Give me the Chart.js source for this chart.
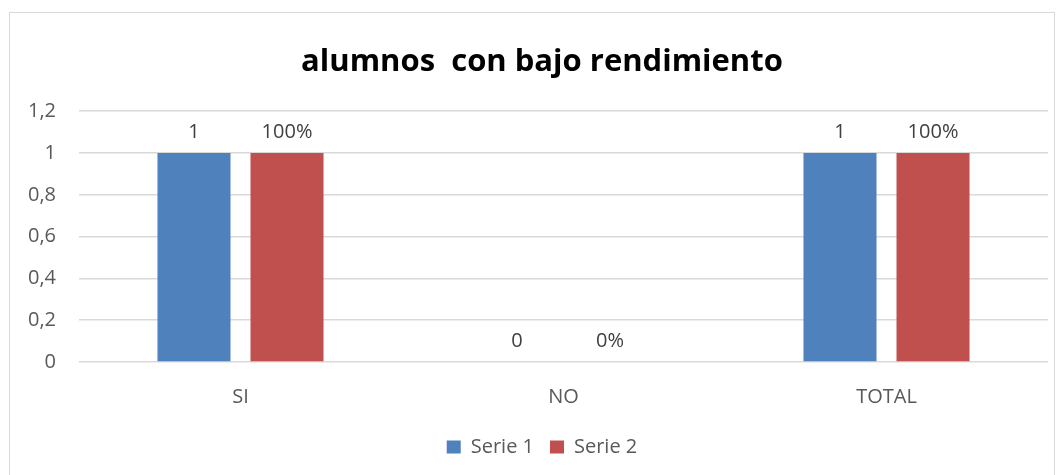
<!DOCTYPE html>
<html>
<head>
<meta charset="utf-8">
<script src="https://cdn.jsdelivr.net/npm/chart.js@4.4.0/dist/chart.umd.min.js"></script>
<style>
  body { margin: 0; background: #fff; }
  #box {
    position: absolute; left: 9px; top: 12px;
    width: 1046px; height: 470px;
    border: 1px solid #d9d9d9; box-sizing: border-box;
  }
</style>
</head>
<body>
<div id="box"><canvas id="chart" width="1044" height="468"></canvas></div>
<script>
// data
const categories = ['SI', 'NO', 'TOTAL'];
const serie1 = [1, 0, 1];
const serie2 = [1, 0, 1];
const serie1Labels = ['1', '0', '1'];
const serie2Labels = ['100%', '0%', '100%'];
const yTicks = [0, 0.2, 0.4, 0.6, 0.8, 1, 1.2];

const grey = '#595959';
const font = '"Open Sans", sans-serif';

// draws the value labels above each bar
const barLabels = {
    id: 'barLabels',
    afterDatasetsDraw(chart) {
        const ctx = chart.ctx;
        const labelSets = [serie1Labels, serie2Labels];
        ctx.save();
        ctx.font = '20px ' + font;
        ctx.fillStyle = '#404040';
        ctx.textAlign = 'center';
        ctx.textBaseline = 'middle';
        chart.data.datasets.forEach((ds, i) => {
            const meta = chart.getDatasetMeta(i);
            meta.data.forEach((bar, j) => {
                ctx.fillText(labelSets[i][j], bar.x, bar.y - 21);
            });
        });
        ctx.restore();
    }
};

// title and legend sit a bit right of centre, so the layout has left padding;
// let the y labels spill into that padding instead of being clipped
const yLabelRoom = {
    id: 'yLabelRoom',
    afterLayout(chart) { chart.scales.y.left = 0; }
};

const ctx = document.getElementById('chart').getContext('2d');
new Chart(ctx, {
    type: 'bar',
    data: {
        labels: categories,
        datasets: [{
            label: 'Serie 1',
            data: serie1,
            backgroundColor: '#4f81bd',
            categoryPercentage: 0.576,
            barPercentage: 0.785
        }, {
            label: 'Serie 2',
            data: serie2,
            backgroundColor: '#c0504d',
            categoryPercentage: 0.576,
            barPercentage: 0.785
        }]
    },
    options: {
        responsive: false,
        animation: false,
        layout: { padding: { left: 26, right: 6, top: 0, bottom: 14 } },
        plugins: {
            title: {
                display: true,
                text: 'alumnos  con bajo rendimiento',
                color: '#000',
                font: { family: font, size: 31, weight: 'bold' },
                padding: { top: 31, bottom: 30 }
            },
            legend: {
                position: 'bottom',
                labels: {
                    color: grey,
                    boxWidth: 14,
                    boxHeight: 13,
                    padding: 16,
                    font: { family: font, size: 20 }
                }
            },
            tooltip: { enabled: false }
        },
        scales: {
            x: {
                afterFit(scale) { scale.height = 59; },
                grid: { display: false },
                border: { display: false },
                ticks: {
                    color: grey,
                    padding: 15,
                    font: { family: font, size: 20 }
                }
            },
            y: {
                min: 0,
                max: 1.2,
                afterFit(scale) { scale.width = 43; },
                afterBuildTicks(scale) { scale.ticks = yTicks.map(v => ({ value: v })); },
                grid: { color: '#d9d9d9', lineWidth: 1.5, drawTicks: false },
                border: { display: false },
                ticks: {
                    color: grey,
                    padding: 23,
                    font: { family: font, size: 20 },
                    callback: v => String(Math.round(v * 10) / 10).replace('.', ',')
                }
            }
        }
    },
    plugins: [barLabels, yLabelRoom]
});
</script>
</body>
</html>
